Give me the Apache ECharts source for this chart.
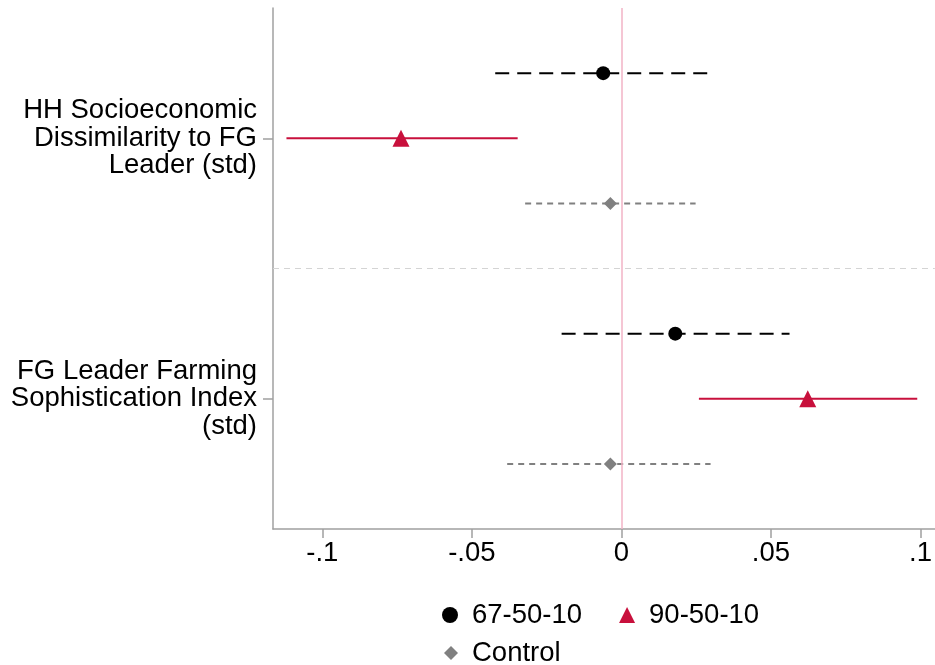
<!DOCTYPE html>
<html>
<head>
<meta charset="utf-8">
<script src="https://cdn.jsdelivr.net/npm/echarts@6/dist/echarts.min.js"></script>
<style>html,body{margin:0;padding:0;background:#fff}#c{width:935px;height:665px}</style>
</head>
<body>
<div id="c"></div>
<script>
// Data
const categories = ['HH Socioeconomic\nDissimilarity to FG\nLeader (std)', 'FG Leader Farming\nSophistication Index\n(std)'];
const seriesNames = ['67-50-10', '90-50-10', 'Control'];
const est67 = [-0.0061, 0.0180];
const lo67  = [-0.0422, -0.0200];
const hi67  = [0.0290, 0.0562];
const est90 = [-0.0737, 0.0623];
const lo90  = [-0.1120, 0.0259];
const hi90  = [-0.0347, 0.0989];
const estCtl = [-0.0037, -0.0037];
const loCtl  = [-0.0322, -0.0382];
const hiCtl  = [0.0248, 0.0298];
const xTicks = [-0.1, -0.05, 0, 0.05, 0.1];
const xTickLabels = ['-.1', '-.05', '0', '.05', '.1'];

// layout: category centers on a 0..4 scale; series offset within group
const catPos = [1, 3];
const offsets = [-0.5, 0, 0.5];

const FONT = "'Liberation Sans', Arial, sans-serif";
const FS = 27.5;
const colors = ['#000000', '#c8103c', '#808080'];

function pts(est, k) { return est.map((v, i) => [v, catPos[i] + offsets[k]]); }
function cis(lo, hi, k) { return lo.map((v, i) => [v, hi[i], catPos[i] + offsets[k]]); }

function ciSeries(name, data, color, width, dash) {
  return {
    type: 'custom', name: name, silent: true, z: 2,
    data: data,
    encode: { x: [0, 1], y: 2 },
    renderItem: function (params, api) {
      const a = api.coord([api.value(0), api.value(2)]);
      const b = api.coord([api.value(1), api.value(2)]);
      return {
        type: 'line',
        shape: { x1: a[0], y1: a[1], x2: b[0], y2: b[1] },
        style: { stroke: color, lineWidth: width, lineDash: dash }
      };
    }
  };
}

const chart = echarts.init(document.getElementById('c'), null, { renderer: 'canvas' });
chart.setOption({
  animation: false,
  backgroundColor: '#fff',
  textStyle: { fontFamily: FONT },
  grid: { left: 273, right: 0, top: 8, bottom: 136, containLabel: false },
  xAxis: {
    type: 'value', min: -0.1165, max: 0.1048,
    axisLine: { show: true, onZero: false, lineStyle: { color: '#a0a0a0', width: 1.5 } },
    axisTick: { show: true, length: 9, customValues: xTicks, lineStyle: { color: '#a0a0a0', width: 1.5 } },
    axisLabel: {
      customValues: xTicks, margin: 10, color: '#000', fontSize: FS, fontFamily: FONT,
      formatter: function (v) {
        for (let i = 0; i < xTicks.length; i++) if (Math.abs(v - xTicks[i]) < 1e-9) return xTickLabels[i];
        return '';
      }
    },
    splitLine: { show: false }
  },
  yAxis: {
    type: 'value', min: 0, max: 4, inverse: true,
    axisLine: { show: true, onZero: false, lineStyle: { color: '#a0a0a0', width: 1.5 } },
    axisTick: { show: true, length: 10, customValues: catPos, lineStyle: { color: '#a0a0a0', width: 1.5 } },
    axisLabel: {
      customValues: catPos, margin: 16, color: '#000', fontSize: FS, lineHeight: 27.5, fontFamily: FONT, align: 'right',
      formatter: function (v) {
        for (let i = 0; i < catPos.length; i++) if (Math.abs(v - catPos[i]) < 1e-9) return categories[i];
        return '';
      }
    },
    splitLine: { show: false }
  },
  legend: [
    {
      left: 437, top: 596, itemGap: 37, itemWidth: 16, itemHeight: 16,
      data: [seriesNames[0], seriesNames[1]],
      textStyle: { fontSize: FS, lineHeight: 28, color: '#000', fontFamily: FONT, padding: [0, 0, 0, 9] },
      selectedMode: false
    },
    {
      left: 439, top: 634, itemGap: 40, itemWidth: 14, itemHeight: 14,
      data: [seriesNames[2]],
      textStyle: { fontSize: FS, lineHeight: 28, color: '#000', fontFamily: FONT, padding: [0, 0, 0, 9] },
      selectedMode: false
    }
  ],
  series: [
    {
      type: 'line', data: [], silent: true, symbol: 'none',
      markLine: {
        silent: true, symbol: 'none', label: { show: false },
        data: [
          { xAxis: 0, lineStyle: { color: '#f2b3c6', width: 1.5, type: 'solid' } },
          { yAxis: 2, lineStyle: { color: '#d4d4d4', width: 1, type: [6, 5] } }
        ]
      }
    },
    ciSeries('ci67', cis(lo67, hi67, 0), colors[0], 2, [14, 8]),
    ciSeries('ci90', cis(lo90, hi90, 1), colors[1], 2, null),
    ciSeries('ciCtl', cis(loCtl, hiCtl, 2), colors[2], 2, [6, 5]),
    { type: 'scatter', name: seriesNames[0], data: pts(est67, 0), symbol: 'circle', symbolSize: 14, itemStyle: { color: colors[0], opacity: 1 }, z: 5 },
    { type: 'scatter', name: seriesNames[1], data: pts(est90, 1), symbol: 'triangle', symbolSize: 17, itemStyle: { color: colors[1], opacity: 1 }, z: 5 },
    { type: 'scatter', name: seriesNames[2], data: pts(estCtl, 2), symbol: 'diamond', symbolSize: 13, itemStyle: { color: colors[2], opacity: 1 }, z: 5 }
  ]
});
</script>
</body>
</html>
